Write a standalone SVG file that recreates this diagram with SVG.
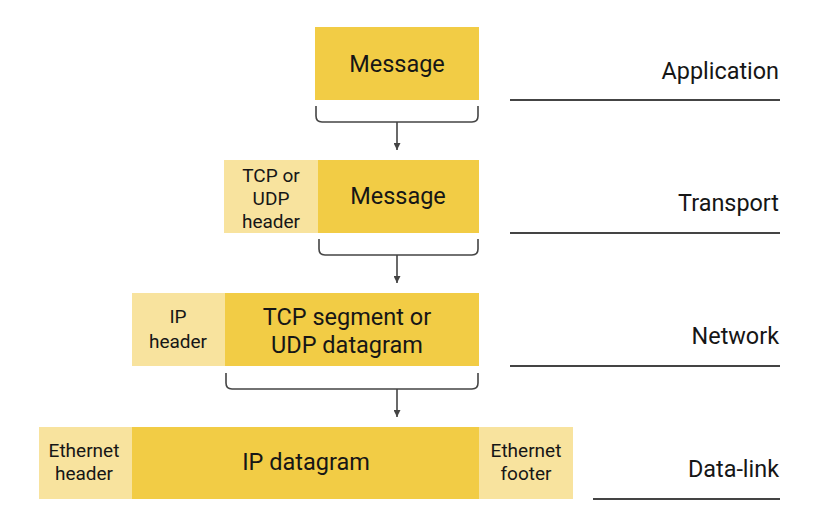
<svg xmlns="http://www.w3.org/2000/svg" width="814" height="522" viewBox="0 0 814 522">
<defs>
<style>
.main{fill:#F2CC45}
.light{fill:#F8E39E}
.t{font-family:Roboto,"Liberation Sans",sans-serif;fill:#161616;text-anchor:middle}
.big{font-size:23.5px}
.small{font-size:19px}
.layer{font-family:Roboto,"Liberation Sans",sans-serif;fill:#161616;text-anchor:end;font-size:23.4px}
.brace{fill:none;stroke:#444;stroke-width:1.6}
.arrow{stroke:#444;stroke-width:1.6;fill:none}
.rule{stroke:#444;stroke-width:1.8}
</style>
<marker id="ah" viewBox="0 0 10 10" refX="10" refY="5" markerWidth="7" markerHeight="7" orient="auto" markerUnits="userSpaceOnUse">
<path d="M0,0 L10,5 L0,10 Z" fill="#444"/>
</marker>
</defs>
<rect width="814" height="522" fill="#ffffff"/>

<g id="application">
<rect class="main" x="315" y="27" width="164" height="73"/>
<text class="t big" x="397" y="72">Message</text>
</g>

<g id="transport">
<rect class="light" x="224" y="160" width="94" height="73"/>
<rect class="main" x="318" y="160" width="161" height="73"/>
<text class="t small" x="271" y="182">TCP or</text>
<text class="t small" x="271" y="205">UDP</text>
<text class="t small" x="271" y="228">header</text>
<text class="t big" x="398" y="204">Message</text>
</g>

<g id="network">
<rect class="light" x="132" y="293" width="93" height="73"/>
<rect class="main" x="225" y="293" width="254" height="73"/>
<text class="t small" x="178" y="323">IP</text>
<text class="t small" x="178" y="348">header</text>
<text class="t big" x="347" y="325">TCP segment or</text>
<text class="t big" x="347" y="353">UDP datagram</text>
</g>

<g id="datalink">
<rect class="light" x="39" y="427" width="93" height="72"/>
<rect class="main" x="132" y="427" width="347" height="72"/>
<rect class="light" x="479" y="427" width="94" height="72"/>
<text class="t small" x="84" y="457">Ethernet</text>
<text class="t small" x="84" y="480">header</text>
<text class="t big" x="306" y="470">IP datagram</text>
<text class="t small" x="526" y="457">Ethernet</text>
<text class="t small" x="526" y="480">footer</text>
</g>

<g id="layers">
<text class="layer" x="779" y="79">Application</text>
<line class="rule" x1="510" y1="100" x2="780" y2="100" stroke="#666"/>
<text class="layer" x="779" y="211">Transport</text>
<line class="rule" x1="510" y1="233" x2="780" y2="233"/>
<text class="layer" x="779" y="344">Network</text>
<line class="rule" x1="510" y1="366" x2="780" y2="366"/>
<text class="layer" x="779" y="477">Data-link</text>
<line class="rule" x1="593" y1="499" x2="780" y2="499"/>
</g>

<g id="connectors">
<path class="brace" d="M316,106 V116 Q316,122 322,122 H472 Q478,122 478,116 V106"/>
<line class="arrow" x1="397" y1="122" x2="397" y2="150" marker-end="url(#ah)"/>
<path class="brace" d="M319,239 V249 Q319,255 325,255 H472 Q478,255 478,249 V239"/>
<line class="arrow" x1="397" y1="255" x2="397" y2="283" marker-end="url(#ah)"/>
<path class="brace" d="M226,373 V383 Q226,389 232,389 H472 Q478,389 478,383 V373"/>
<line class="arrow" x1="397" y1="389" x2="397" y2="417" marker-end="url(#ah)"/>
</g>
</svg>
